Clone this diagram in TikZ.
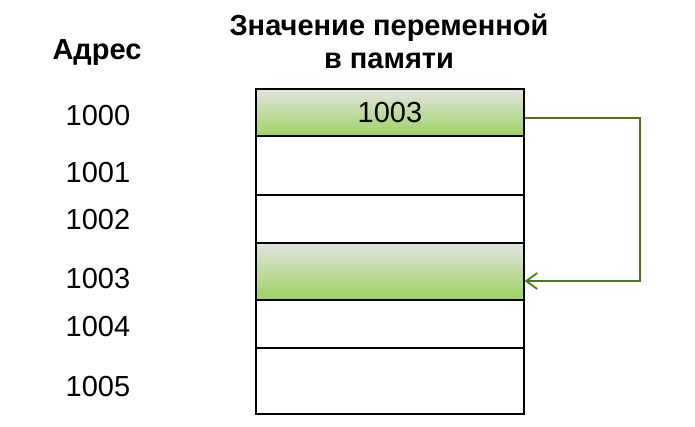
\documentclass[tikz,border=0pt]{standalone}
\usepackage{fontspec}
\setmainfont{Liberation Sans}
\usetikzlibrary{arrows.meta}
\definecolor{cellgreen}{HTML}{9DD35F}
\definecolor{cellgrey}{HTML}{E1E4E1}
\definecolor{ptrgreen}{HTML}{4B7A12}
\begin{document}
\begin{tikzpicture}[x=1pt,y=-1pt,font=\fontsize{29}{33}\selectfont]
    \tikzstyle{cell}=[rectangle,draw,line width=1.4pt,minimum width=268pt,inner sep=0pt];
    \tikzstyle{greencell}=[cell,top color=cellgrey,bottom color=cellgreen];
    \tikzstyle{addr}=[inner sep=0pt];
    \tikzstyle{head}=[inner sep=0pt,font=\fontsize{29}{33}\selectfont\bfseries,align=center];
    \tikzstyle{ptr}=[-{Straight Barb[length=11pt,width=16pt]},draw=ptrgreen,line width=1.8pt];

    \useasboundingbox (0,0) rectangle (695,426);

    \node[head,anchor=base] (hdr) at (389,68) {Значение переменной\\в памяти};
    \node[head,anchor=base] (adr) at (97,59) {Адрес};

    \node[greencell,minimum height=47pt] (c1) at (390,112.5) {1003};
    \node[cell,minimum height=59pt] (c2) at (390,165.5) {};
    \node[cell,minimum height=48pt] (c3) at (390,219) {};
    \node[greencell,minimum height=57pt] (c4) at (390,271.5) {};
    \node[cell,minimum height=48pt] (c5) at (390,324) {};
    \node[cell,minimum height=66pt] (c6) at (390,381) {};

    \node[addr] (a0) at (98,115.5) {1000};
    \node[addr] (a1) at (98,173) {1001};
    \node[addr] (a2) at (98,220) {1002};
    \node[addr] (a3) at (98,279) {1003};
    \node[addr] (a4) at (98,327) {1004};
    \node[addr] (a5) at (98,387) {1005};

    \draw[ptr] ([yshift=-5.5pt]c1.east) -- ++(115,0) |- ([yshift=-9.5pt]c4.east);
\end{tikzpicture}
\end{document}
